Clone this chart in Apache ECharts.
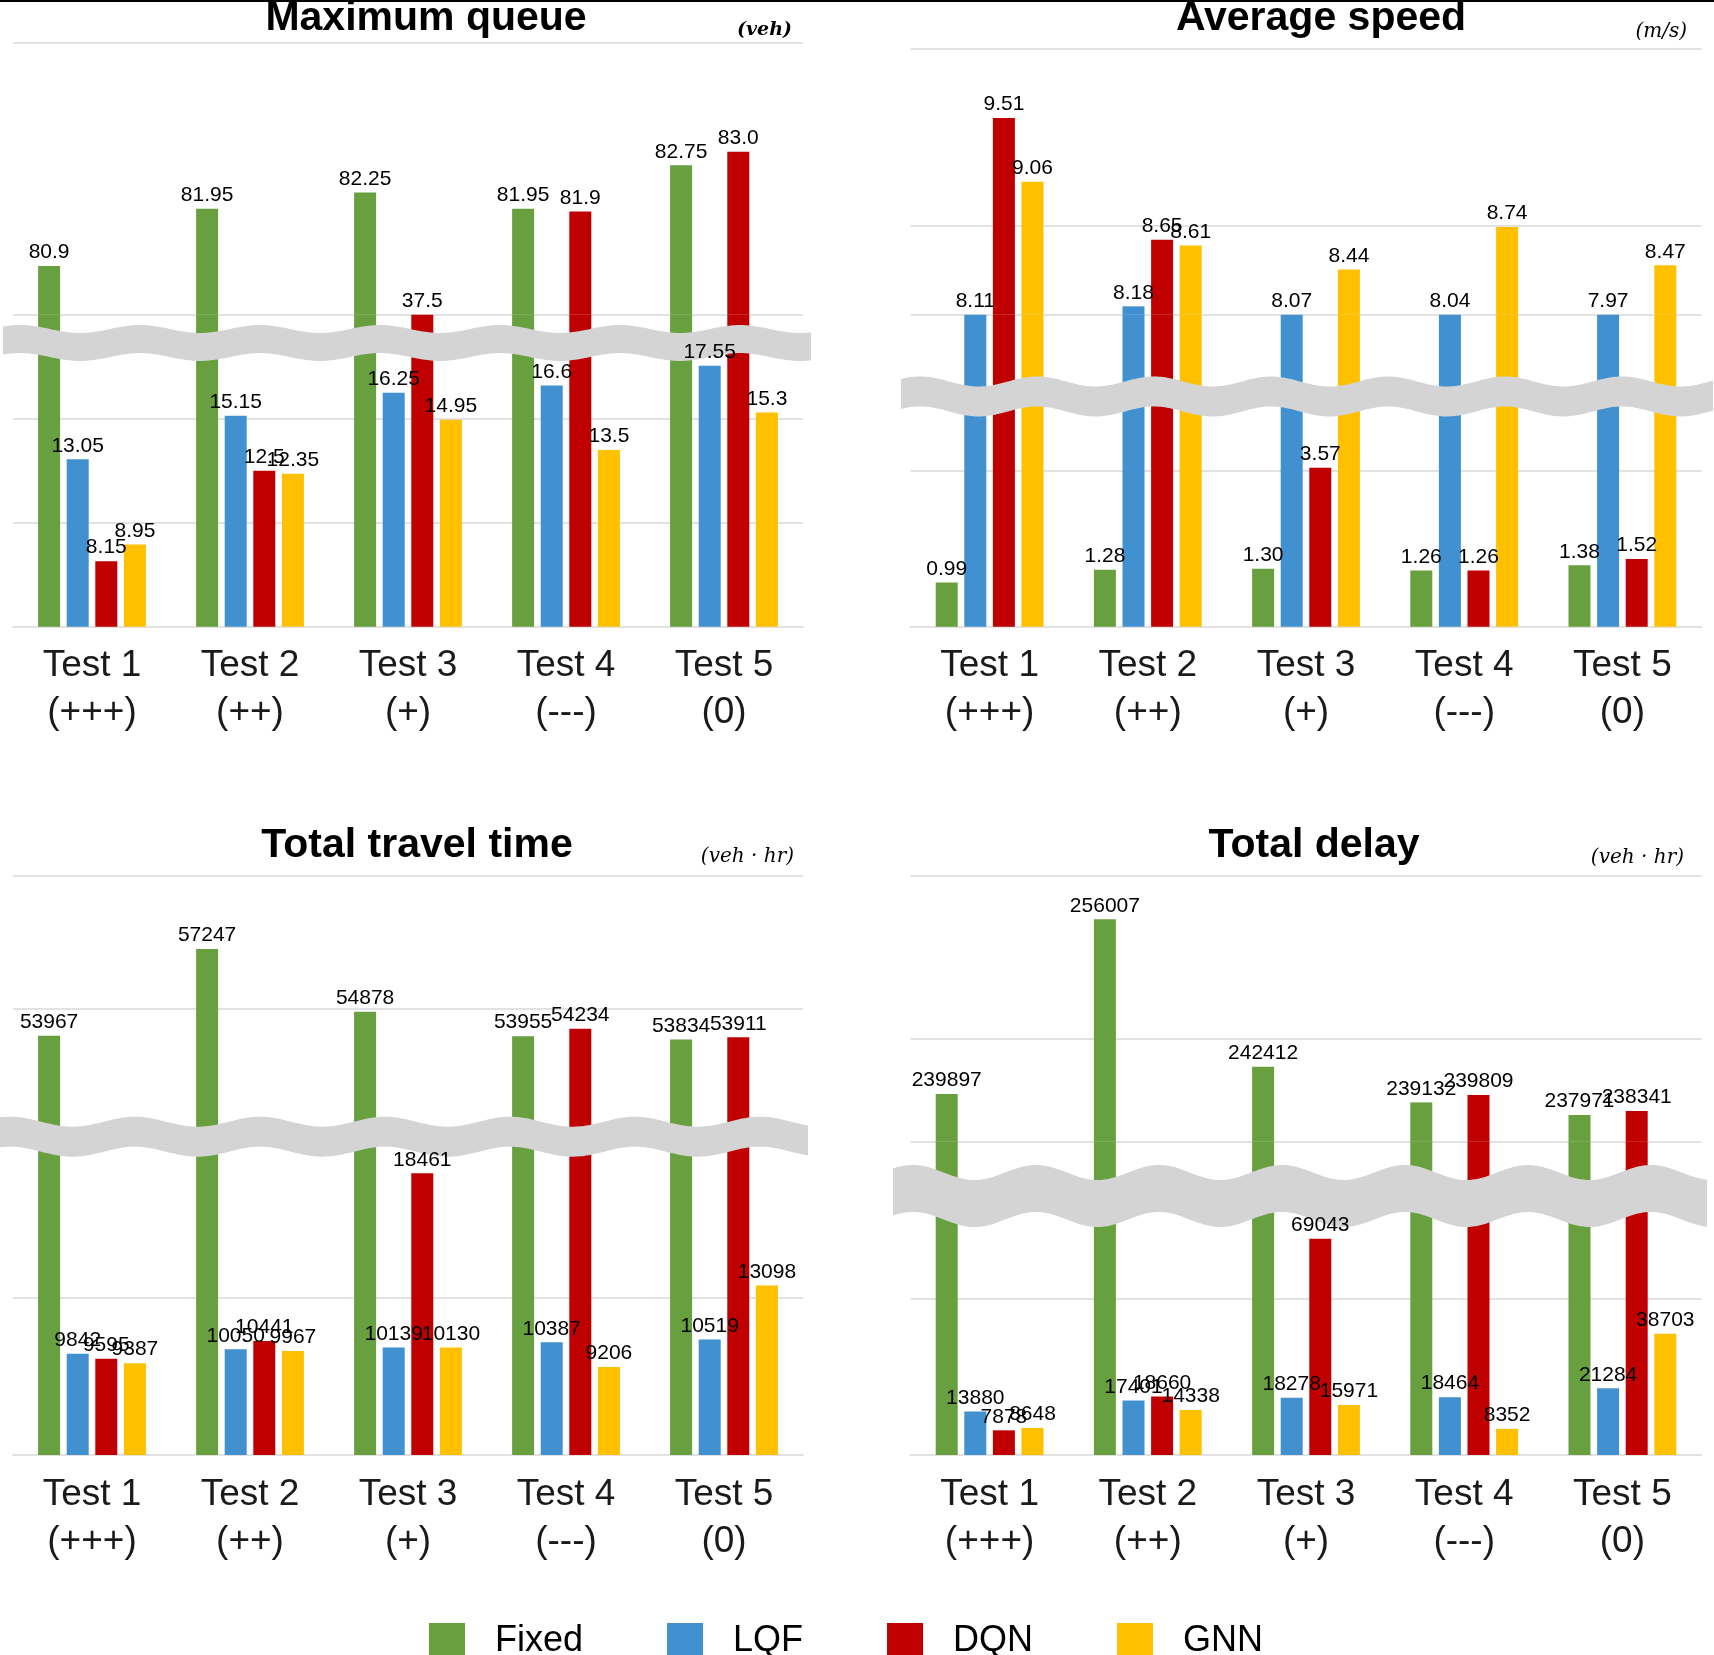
<!DOCTYPE html>
<html><head><meta charset="utf-8">
<script src="https://cdn.jsdelivr.net/npm/echarts@6/dist/echarts.min.js"></script>
<style>html,body{margin:0;padding:0;background:#fff}#c{width:1714px;height:1655px}</style>
</head><body><div id="c"></div>
<script>
// ---------------- data ----------------
const categories = ['Test 1\n(+++)', 'Test 2\n(++)', 'Test 3\n(+)', 'Test 4\n(---)', 'Test 5\n(0)'];
const seriesNames = ['Fixed', 'LQF', 'DQN', 'GNN'];

// Maximum queue (veh)
const queueFixed = [80.9, 81.95, 82.25, 81.95, 82.75];
const queueLQF   = [13.05, 15.15, 16.25, 16.6, 17.55];
const queueDQN   = [8.15, 12.5, 37.5, 81.9, 83.0];
const queueGNN   = [8.95, 12.35, 14.95, 13.5, 15.3];
const queueLowerRange = [5, 20];
const queueUpperRange = [80, 85];
const queueLowerTicks = [10, 15, 20];
const queueUpperTicks = [85];

// Average speed (m/s)
const speedFixed = [0.99, 1.28, 1.30, 1.26, 1.38];
const speedLQF   = [8.11, 8.18, 8.07, 8.04, 7.97];
const speedDQN   = [9.51, 8.65, 3.57, 1.26, 1.52];
const speedGNN   = [9.06, 8.61, 8.44, 8.74, 8.47];
const speedLowerRange = [0, 7];
const speedUpperRange = [8.12, 10];
const speedLowerTicks = [3.5, 7];
const speedUpperTicks = [8.75, 10];

// Total travel time (veh·hr)
const travelFixed = [53967, 57247, 54878, 53955, 53834];
const travelLQF   = [9842, 10050, 10139, 10387, 10519];
const travelDQN   = [9595, 10441, 18461, 54234, 53911];
const travelGNN   = [9387, 9967, 10130, 9206, 13098];
const travelLowerRange = [5000, 20000];
const travelUpperRange = [50000, 60000];
const travelLowerTicks = [12500, 20000];
const travelUpperTicks = [55000, 60000];

// Total delay (veh·hr)
const delayFixed = [239897, 256007, 242412, 239132, 237971];
const delayLQF   = [13880, 17401, 18278, 18464, 21284];
const delayDQN   = [7878, 18660, 69043, 239809, 238341];
const delayGNN   = [8648, 14338, 15971, 8352, 38703];
const delayLowerRange = [0, 100000];
const delayUpperRange = [235500, 260000];
const delayLowerTicks = [50000, 100000];
const delayUpperTicks = [245000, 260000];

// ---------------- styling / layout ----------------
const colors = ['#68A040', '#4191D0', '#C00000', '#FFC000'];
const SANS = '"Liberation Sans", Arial, sans-serif';
const SERIF = '"DejaVu Serif", serif';
const GRIDC = '#D9D9D9';
const BAR_W = 22, BAR_GAP = 0.3;

const panels = [
  { title: 'Maximum queue', unit: '(veh)', unitFont: 'italic bold 19px ' + SERIF,
    values: [queueFixed, queueLQF, queueDQN, queueGNN],
    lower: queueLowerRange, upper: queueUpperRange, lowerTicks: queueLowerTicks, upperTicks: queueUpperTicks,
    fmt: v => Number.isInteger(v) ? v.toFixed(1) : String(v),
    left: 13, width: 790, top: 43, split: 314.8, base: 626.7,
    titleX: 426, titleY: 19, unitX: 792, unitY: 30,
    band: { x0: 3, x1: 811, c: 343, t: 28, A: 4, P: 120, xp: 20 } },
  { title: 'Average speed', unit: '(m/s)', unitFont: 'italic 20px ' + SERIF,
    values: [speedFixed, speedLQF, speedDQN, speedGNN],
    lower: speedLowerRange, upper: speedUpperRange, lowerTicks: speedLowerTicks, upperTicks: speedUpperTicks,
    fmt: v => v.toFixed(2),
    left: 910.5, width: 791, top: 48.6, split: 314.8, base: 626.7,
    titleX: 1321, titleY: 19, unitX: 1687, unitY: 32,
    band: { x0: 901, x1: 1714, c: 396.5, t: 30, A: 5, P: 117, xp: 920 } },
  { title: 'Total travel time', unit: '(veh · hr)', unitFont: 'italic 20px ' + SERIF,
    values: [travelFixed, travelLQF, travelDQN, travelGNN],
    lower: travelLowerRange, upper: travelUpperRange, lowerTicks: travelLowerTicks, upperTicks: travelUpperTicks,
    fmt: v => String(v),
    left: 13, width: 790, top: 876, split: 1141, base: 1455,
    titleX: 417, titleY: 846, unitX: 794, unitY: 857,
    band: { x0: 0, x1: 808, c: 1136.7, t: 30, A: 5, P: 125, xp: 10 } },
  { title: 'Total delay', unit: '(veh · hr)', unitFont: 'italic 20px ' + SERIF,
    values: [delayFixed, delayLQF, delayDQN, delayGNN],
    lower: delayLowerRange, upper: delayUpperRange, lowerTicks: delayLowerTicks, upperTicks: delayUpperTicks,
    fmt: v => String(v),
    left: 910.5, width: 791, top: 876, split: 1141.8, base: 1455,
    titleX: 1314, titleY: 846, unitX: 1684, unitY: 858,
    band: { x0: 893, x1: 1707, c: 1196, t: 47, A: 7.5, P: 123, xp: 913 } }
];

const grid = [], xAxis = [], yAxis = [], series = [], graphic = [];

panels.forEach((p, pi) => {
  [0, 1].forEach(part => {   // 0 = lower segment, 1 = upper segment
    const idx = pi * 2 + part;
    const top = part === 0 ? p.split : p.top;
    const bottom = part === 0 ? p.base : p.split;
    grid.push({ left: p.left, width: p.width, top: top, height: bottom - top,
      containLabel: false, outerBoundsMode: 'none' });
    const range = part === 0 ? p.lower : p.upper;
    xAxis.push({ type: 'category', gridIndex: idx, data: categories,
      axisTick: { show: false },
      axisLine: { show: part === 0, lineStyle: { color: GRIDC, width: 1.5 } },
      axisLabel: { show: part === 0, fontSize: 37, lineHeight: 47, color: '#1a1a1a',
        fontFamily: SANS, margin: 16, interval: 0 },
      splitLine: { show: false } });
    yAxis.push({ type: 'value', gridIndex: idx, min: range[0], max: range[1],
      show: false, splitLine: { show: false } });
    const ticks = part === 0 ? p.lowerTicks : p.upperTicks;
    p.values.forEach((vals, si) => {
      const s = {
        type: 'bar', name: seriesNames[si], xAxisIndex: idx, yAxisIndex: idx,
        barWidth: BAR_W, barGap: (BAR_GAP * 100) + '%', clip: true, z: 2,
        itemStyle: { color: colors[si] },
        label: { show: false },
        emphasis: { disabled: true },
        data: vals
      };
      if (si === 0) {
        s.markLine = { silent: true, symbol: ['none', 'none'], z: 1, animation: false,
          label: { show: false }, emphasis: { disabled: true },
          lineStyle: { color: GRIDC, width: 1.5, type: 'solid' },
          data: ticks.map(t => ({ yAxis: t })) };
      }
      series.push(s);
    });
    // value labels, drawn above the break band, positioned via the axes
    series.push({
      type: 'custom', xAxisIndex: idx, yAxisIndex: idx, z: 150, clip: false, silent: true,
      data: categories.map((c, ci) => [ci].concat(p.values.map(a => a[ci]))),
      encode: { x: 0, y: [1, 2, 3, 4] },
      renderItem: (params, api) => {
        const ci = api.value(0);
        const children = [];
        for (let k = 0; k < 4; k++) {
          const v = api.value(k + 1);
          const show = part === 0 ? v < p.upper[0] : v >= p.upper[0];
          if (!show) continue;
          const cv = Math.min(Math.max(v, range[0]), range[1]);
          const pt = api.coord([ci, cv]);
          const x = pt[0] + (k - 1.5) * BAR_W * (1 + BAR_GAP);
          children.push({ type: 'text', x: x, y: pt[1] - 3,
            style: { text: p.fmt(v), font: '21px ' + SANS, fill: '#000',
              align: 'center', verticalAlign: 'bottom' } });
        }
        return { type: 'group', children: children };
      }
    });
  });

  // titles and units
  graphic.push({ type: 'text', x: p.titleX, y: p.titleY, z: 120,
    style: { text: p.title, font: 'bold 41px ' + SANS, fill: '#000', align: 'center', verticalAlign: 'middle' } });
  graphic.push({ type: 'text', x: p.unitX, y: p.unitY, z: 120,
    style: { text: p.unit, font: p.unitFont, fill: '#000', align: 'right', verticalAlign: 'middle' } });

  // wavy break band
  const b = p.band, top = [], bot = [];
  for (let x = b.x0; x <= b.x1; x += 2) {
    const w = -b.A * Math.cos(2 * Math.PI * (x - b.xp) / b.P);
    top.push([x, b.c - b.t / 2 + w]);
    bot.push([x, b.c + b.t / 2 + w]);
  }
  graphic.push({ type: 'polygon', z: 100, silent: true,
    shape: { points: top.concat(bot.reverse()) }, style: { fill: '#D4D4D4' } });
});

graphic.push({ type: 'rect', z: 130, shape: { x: 0, y: 0, width: 1714, height: 2 }, style: { fill: '#000' } });

const chart = echarts.init(document.getElementById('c'), null, { renderer: 'canvas' });
chart.setOption({
  animation: false,
  backgroundColor: '#fff',
  grid, xAxis, yAxis, series, graphic,
  legend: { data: seriesNames, left: 424, top: 1618, itemWidth: 36, itemHeight: 36, itemGap: 84,
    icon: 'rect', selectedMode: false,
    textStyle: { fontSize: 36, color: '#000', fontFamily: SANS, padding: [0, 0, 0, 25] } },
  tooltip: { show: false }
});
</script></body></html>
